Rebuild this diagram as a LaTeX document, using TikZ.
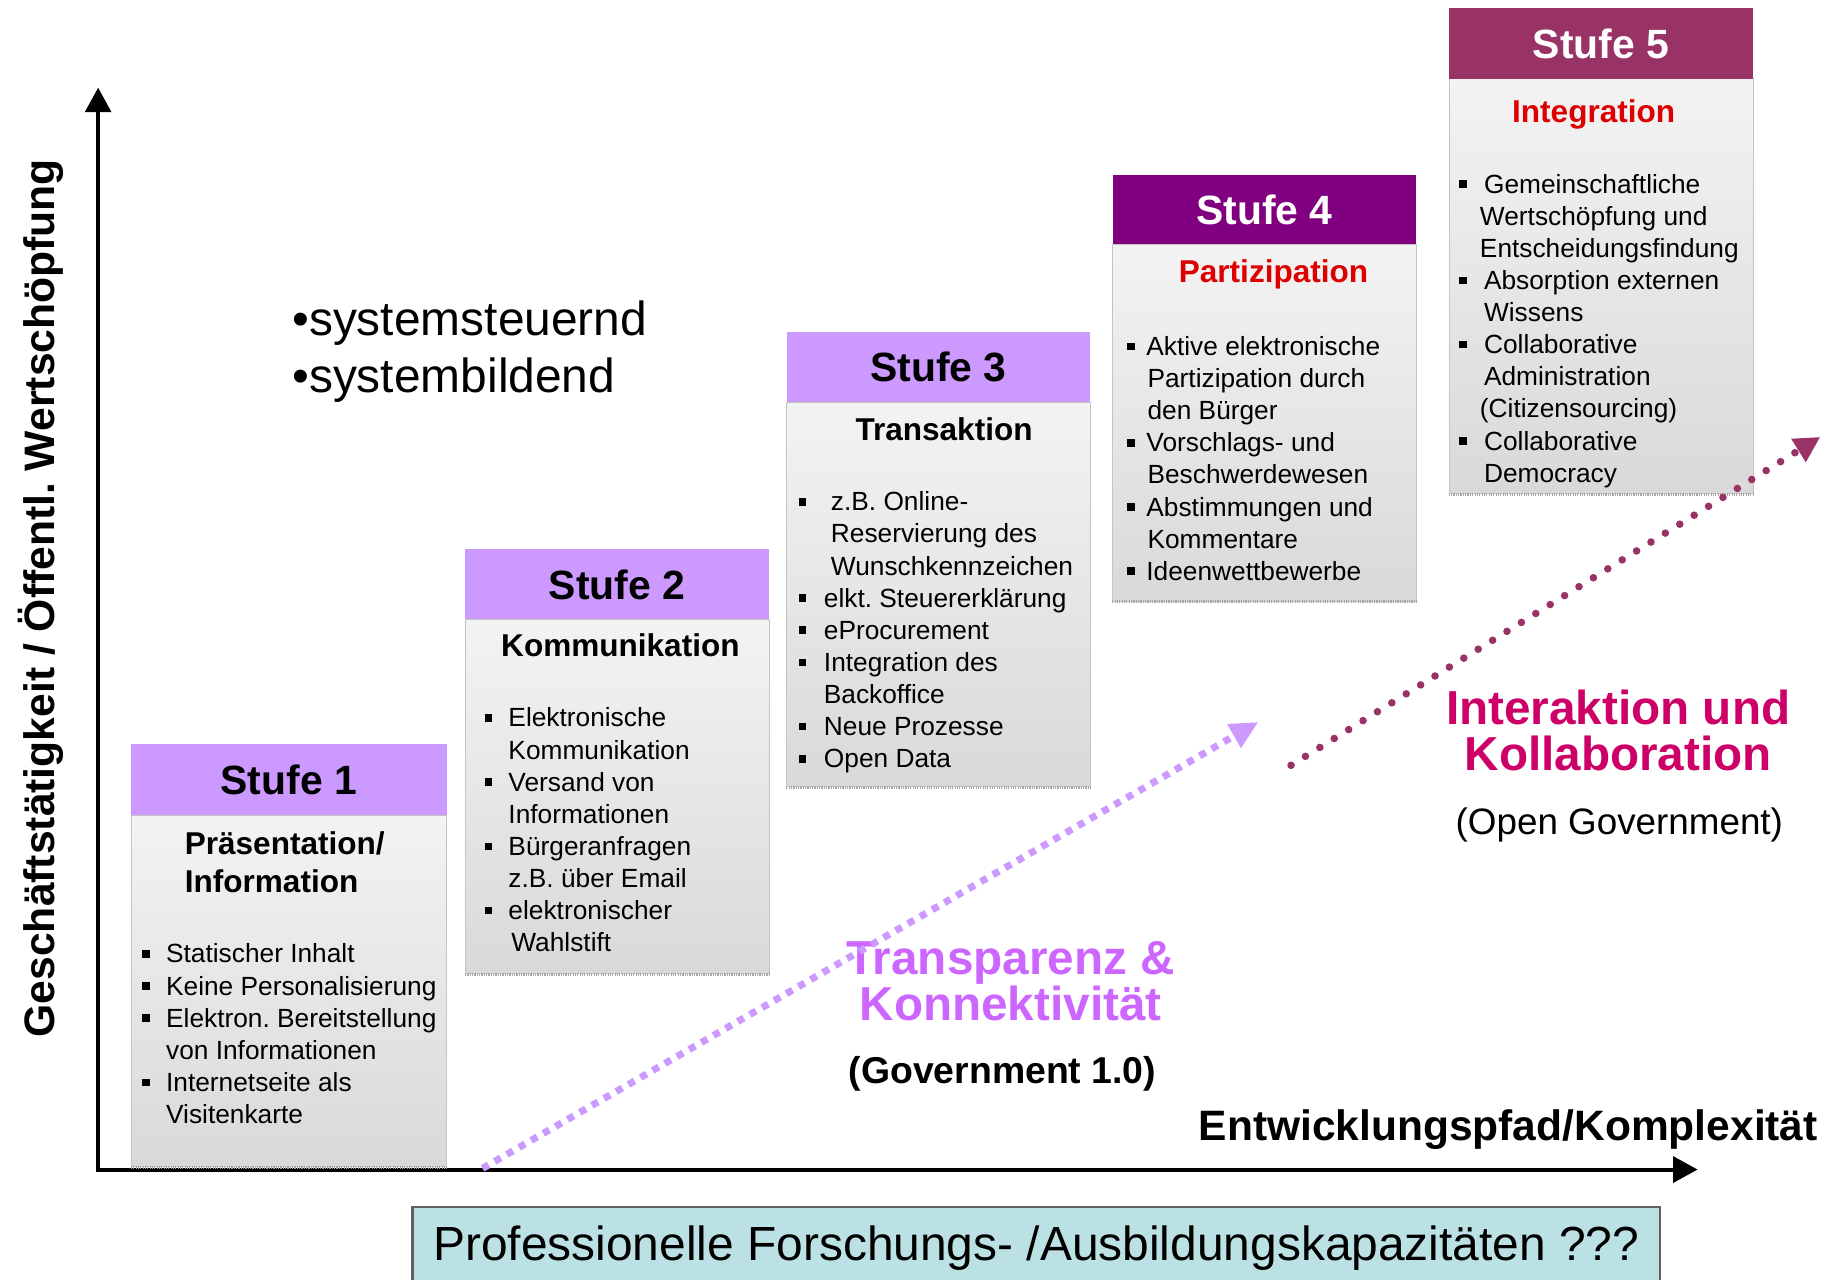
\documentclass[tikz,border=0pt]{standalone}
\usepackage{fontspec}
\setmainfont{Liberation Sans}
\frenchspacing
\usetikzlibrary{arrows.meta}
\definecolor{lila}{HTML}{CC99FF}
\definecolor{violett}{HTML}{800080}
\definecolor{weinrot}{HTML}{993366}
\definecolor{transp}{HTML}{CC66FF}
\definecolor{interk}{HTML}{CC0066}
\definecolor{rottitel}{HTML}{DD0000}
\definecolor{boxcyan}{HTML}{BCE1E4}
\definecolor{bodytop}{HTML}{F3F3F3}
\definecolor{bodybot}{HTML}{D9D9D9}
\definecolor{bodyedge}{HTML}{C4C4C4}
\newlength\bind
\newcommand\sqb{\makebox[\bind][l]{\raisebox{4.5pt}{\rule{6.5pt}{6.5pt}}}\ignorespaces}
\newcommand\cont[1][0pt]{\hspace*{\dimexpr\bind+#1\relax}\ignorespaces}
\newcommand\fstrut{\rule{0pt}{17pt}}
\begin{document}
\begin{tikzpicture}[x=1pt,y=-1pt,
  hdr/.style={anchor=north west, inner sep=0pt, minimum height=60pt, minimum width=260pt,
    font=\fontsize{35}{40}\selectfont\bfseries},
  body/.style={anchor=north west, inner sep=0pt, minimum width=260pt,
    top color=bodytop, bottom color=bodybot, draw=bodyedge, line width=1pt},
  shadowline/.style={draw=gray!70, line width=2.5pt, dash pattern=on 1pt off 1pt},
  lst/.style={anchor=north west, inner sep=0pt, align=left, font=\fontsize{22.5}{27.5}\selectfont},
  ttl/.style={anchor=base, inner sep=0pt, font=\fontsize{27}{33}\selectfont\bfseries},
  axis/.style={line width=3.4pt, -{Triangle[length=21pt,width=22pt]}},
  big/.style={inner sep=0pt, font=\fontsize{40.8}{39}\selectfont\bfseries}
]
\useasboundingbox (0,0) rectangle (1568,1095.5);

% ---------- axes ----------
\coordinate (O) at (84,1002.5);
\coordinate (Ytop) at (84,75);
\coordinate (Xend) at (1453,1001);
\draw[axis] (O) -- (Ytop);
\draw[axis] (82.3,1001) -- (Xend);

\node[rotate=90, inner sep=0pt, font=\fontsize{36.5}{40}\selectfont\bfseries] (ylab) at (35,512)
  {Geschäftstätigkeit / Öffentl. Wertschöpfung};
\node[anchor=base east, inner sep=0pt, font=\fontsize{36.4}{40}\selectfont\bfseries] (xlab) at (1556,976)
  {Entwicklungspfad/Komplexität};

% ---------- Stufe 1 ----------
\node[body, minimum width=270pt, minimum height=301pt] (b1) at (112,697) {};
\draw[shadowline] (b1.south west) -- (b1.south east);
\node[hdr, fill=lila, minimum width=270pt] (h1) at (112,637) {Stufe 1};
\node[anchor=north west, inner sep=0pt, align=left, font=\fontsize{27}{33}\selectfont\bfseries] (t1) at (158,710)
  {\rule{0pt}{21pt}Präsentation/\\Information};
\setlength\bind{20.5pt}
\node[lst] (l1) at (121.5,807) {\fstrut\sqb Statischer Inhalt\\
  \sqb Keine Personalisierung\\
  \sqb Elektron. Bereitstellung\\
  \cont von Informationen\\
  \sqb Internetseite als\\
  \cont Visitenkarte};

% ---------- Stufe 2 ----------
\node[body, minimum height=303pt] (b2) at (398,530) {};
\draw[shadowline] (b2.south west) -- (b2.south east);
\node[hdr, fill=lila] (h2) at (398,470) {Stufe 2};
\node[ttl] (t2) at (531,562) {Kommunikation};
\node[lst] (l2) at (414.5,605) {\fstrut\sqb Elektronische\\
  \cont Kommunikation\\
  \sqb Versand von\\
  \cont Informationen\\
  \sqb Bürgeranfragen\\
  \cont z.B. über Email\\
  \sqb elektronischer\\
  \cont[2.5pt] Wahlstift};

% ---------- Stufe 3 ----------
\node[body, minimum height=329pt] (b3) at (673,344) {};
\draw[shadowline] (b3.south west) -- (b3.south east);
\node[hdr, fill=lila] (h3) at (673,284) {Stufe 3};
\node[ttl] (t3) at (808,377) {Transaktion};
\setlength\bind{21.5pt}
\node[lst] (l3) at (683.5,420) {\fstrut\sqb\hspace{6pt}z.B. Online-\\
  \cont[6pt] Reservierung des\\
  \cont[6pt] Wunschkennzeichen\\
  \sqb elkt. Steuererklärung\\
  \sqb eProcurement\\
  \sqb Integration des\\
  \cont Backoffice\\
  \sqb Neue Prozesse\\
  \sqb Open Data};

% ---------- Stufe 4 ----------
\node[body, minimum height=305pt] (b4) at (952,209) {};
\draw[shadowline] (b4.south west) -- (b4.south east);
\node[hdr, fill=violett, text=white, minimum height=59pt] (h4) at (952,150) {Stufe 4};
\node[ttl, text=rottitel] (t4) at (1090,242) {Partizipation};
\setlength\bind{16.5pt}
\node[lst] (l4) at (964.5,287) {\fstrut\sqb Aktive elektronische\\
  \cont[1pt] Partizipation durch\\
  \cont[1pt] den Bürger\\
  \sqb Vorschlags- und\\
  \cont[1pt] Beschwerdewesen\\
  \sqb Abstimmungen und\\
  \cont[1pt] Kommentare\\
  \sqb Ideenwettbewerbe};

% ---------- Stufe 5 ----------
\node[body, minimum height=355pt] (b5) at (1240,67) {};
\draw[shadowline] (b5.south west) -- (b5.south east);
\node[hdr, fill=weinrot, text=white] (h5) at (1240,7) {Stufe 5};
\node[ttl, text=rottitel] (t5) at (1364,105) {Integration};
\setlength\bind{21.5pt}
\node[lst] (l5) at (1248.5,148) {\fstrut\sqb Gemeinschaftliche\\
  \cont[-3.5pt] Wertschöpfung und\\
  \cont[-3.5pt] Entscheidungsfindung\\
  \sqb Absorption externen\\
  \cont Wissens\\
  \sqb Collaborative\\
  \cont Administration\\
  \cont[-3.5pt] (Citizensourcing)\\
  \sqb Collaborative\\
  \cont Democracy};

% ---------- free texts ----------
\node[anchor=north west, inner sep=0pt, align=left, font=\fontsize{41}{49}\selectfont] (sys) at (250,257)
  {\rule{0pt}{30pt}•systemsteuernd\\•systembildend};

\node[big, anchor=north, align=center, text=transp] (tk) at (865,804)
  {\rule{0pt}{30pt}Transparenz \&\\Konnektivität};
\node[anchor=base, inner sep=0pt, font=\fontsize{32}{36}\selectfont\bfseries] (gov) at (858,927)
  {(Government 1.0)};

\node[big, anchor=north, align=center, text=interk] (ik) at (1385,590)
  {\rule{0pt}{30pt}Interaktion und\\Kollaboration};
\node[anchor=base, inner sep=0pt, font=\fontsize{31.5}{36}\selectfont] (ogov) at (1386,714)
  {(Open Government)};

% ---------- arrows ----------
\coordinate (p1) at (413,1000);
\coordinate (p2) at (1077,618);
\draw[lila, line width=6pt, dash pattern=on 6pt off 6pt, -{Triangle[length=24pt,width=22pt]}] (p1) -- (p2);
\coordinate (q1) at (1105,655);
\coordinate (q2) at (1558,374);
\draw[weinrot, line width=6.5pt, line cap=round, dash pattern=on 0pt off 14.5pt,
  -{Triangle[length=22pt,width=22pt]}] (q1) -- (q2);

% ---------- bottom box ----------
\node[anchor=north west, inner sep=0pt, draw=gray!75!black, line width=2pt, fill=boxcyan,
  minimum width=1068pt, minimum height=70pt, font=\fontsize{41}{44}\selectfont] (fb) at (352,1032)
  {Professionelle Forschungs- /Ausbildungskapazitäten ???};
\end{tikzpicture}
\end{document}
